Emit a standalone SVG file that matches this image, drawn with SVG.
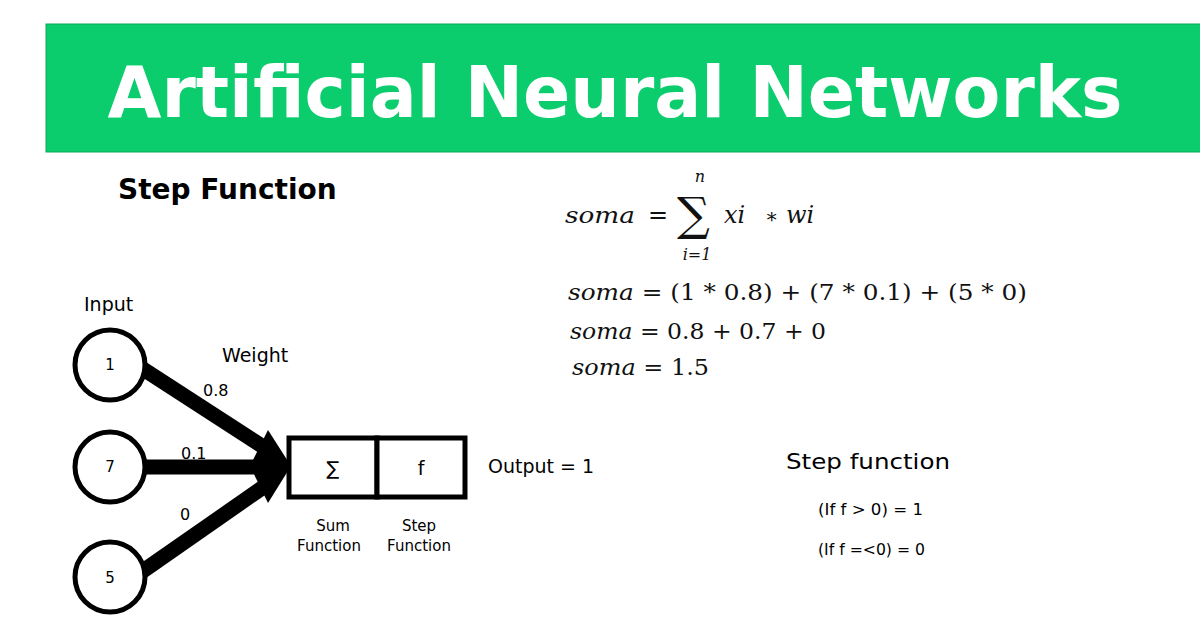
<svg xmlns="http://www.w3.org/2000/svg" width="1200" height="637" viewBox="0 0 1200 637">
<style>
.s{font-family:"DejaVu Sans",Verdana,sans-serif;fill:#000}
.m{font-family:"DejaVu Serif",serif;font-style:italic;fill:#111}
.c{font-family:"DejaVu Serif",serif;fill:#111}
.n{fill:#fff;stroke:#000;stroke-width:5}
.e{stroke:#000;stroke-width:15;fill:none}
</style>
<rect width="1200" height="637" fill="#fff"/>
<g id="banner"><rect x="46" y="24" width="1160" height="128" fill="#0ccd6e" stroke="#0aa85a" stroke-width="1"/>
<text x="615" y="117" text-anchor="middle" font-family="'DejaVu Sans',Verdana,sans-serif" font-weight="bold" font-size="72" fill="#fff" textLength="1015" lengthAdjust="spacingAndGlyphs">Artificial Neural Networks</text></g>
<text x="118" y="199" class="s" font-weight="bold" font-size="28">Step Function</text>
<g id="formula">
<text x="565" y="223" class="m" font-size="22" textLength="70" lengthAdjust="spacingAndGlyphs">soma</text>
<text x="648" y="223" class="c" font-size="24">=</text>
<text x="677" y="230" class="c" font-size="46">∑</text>
<text x="700" y="182" class="m" font-size="16" text-anchor="middle">n</text>
<text x="697" y="260" class="m" font-size="16" text-anchor="middle">i=1</text>
<text x="724" y="223" class="m" font-size="24">xi</text>
<text x="765" y="223" class="c" font-size="20">∗</text>
<text x="786" y="223" class="m" font-size="24">wi</text>
<text x="568" y="300" class="c" font-size="23" textLength="459" lengthAdjust="spacingAndGlyphs"><tspan class="m">soma</tspan> = (1 * 0.8) + (7 * 0.1) + (5 * 0)</text>
<text x="570" y="339" class="c" font-size="23" textLength="256" lengthAdjust="spacingAndGlyphs"><tspan class="m">soma</tspan> = 0.8 + 0.7 + 0</text>
<text x="572" y="375" class="c" font-size="23" textLength="137" lengthAdjust="spacingAndGlyphs"><tspan class="m">soma</tspan> = 1.5</text>
</g>
<text x="84" y="311" class="s" font-size="19">Input</text>
<text x="222" y="362" class="s" font-size="19">Weight</text>
<g id="connectors">
<line class="e" x1="140" y1="367" x2="262" y2="446"/>
<line class="e" x1="143" y1="467" x2="262" y2="467"/>
<line class="e" x1="140" y1="573" x2="262" y2="488"/>
<polygon points="268,430 291,466 268,503 250,466" fill="#000"/>
</g>
<text x="203" y="396" class="s" font-size="16">0.8</text>
<text x="181" y="459" class="s" font-size="16">0.1</text>
<text x="180" y="520" class="s" font-size="16">0</text>
<g id="n1"><circle class="n" cx="110" cy="365" r="35"/><text x="110" y="370" class="s" font-size="15" text-anchor="middle">1</text></g>
<g id="n7"><circle class="n" cx="110" cy="467" r="35"/><text x="110" y="472" class="s" font-size="15" text-anchor="middle">7</text></g>
<g id="n5"><circle class="n" cx="110" cy="577" r="35"/><text x="110" y="583" class="s" font-size="15" text-anchor="middle">5</text></g>
<g id="sum"><rect x="289" y="438" width="88" height="59" fill="#fff" stroke="#000" stroke-width="5"/><text x="333" y="475" class="s" font-size="19" text-anchor="middle">∑</text>
<text x="333" y="531" class="s" font-size="15" text-anchor="middle">Sum</text><text x="329" y="551" class="s" font-size="15" text-anchor="middle">Function</text></g>
<g id="step"><rect x="377" y="438" width="88" height="59" fill="#fff" stroke="#000" stroke-width="5"/><text x="421" y="475" class="s" font-size="19" text-anchor="middle">f</text>
<text x="419" y="531" class="s" font-size="15" text-anchor="middle">Step</text><text x="419" y="551" class="s" font-size="15" text-anchor="middle">Function</text></g>
<text x="488" y="473" class="s" font-size="19">Output = 1</text>
<text x="786" y="469" class="s" font-size="21" textLength="164" lengthAdjust="spacingAndGlyphs">Step function</text>
<text x="818" y="515" class="s" font-size="15" textLength="105" lengthAdjust="spacingAndGlyphs">(If f &gt; 0) =  1</text>
<text x="818" y="555" class="s" font-size="15" textLength="107" lengthAdjust="spacingAndGlyphs">(If f =&lt;0) = 0</text>
</svg>
